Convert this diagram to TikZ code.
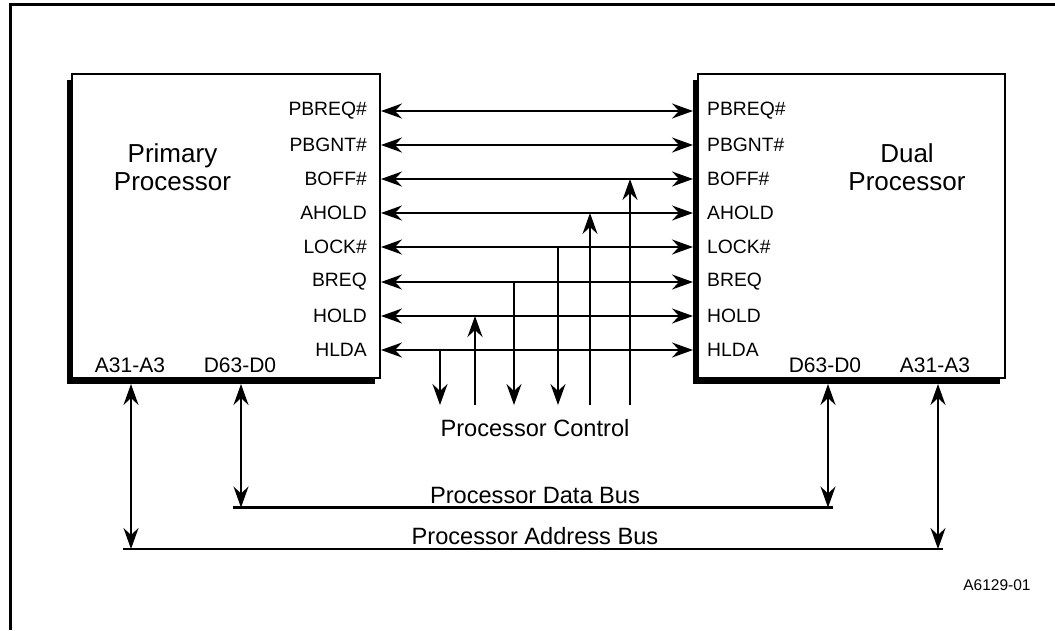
\documentclass[tikz,border=0pt]{standalone}
\usepackage{fontspec}
\setmainfont{Liberation Sans}
\usetikzlibrary{arrows.meta}
\begin{document}
\begin{tikzpicture}[x=1pt,y=-1pt,
  sig/.style={inner sep=0pt,font=\fontsize{19.3}{22}\selectfont},
  pin/.style={inner sep=0pt,font=\fontsize{21}{24}\selectfont},
  title/.style={inner sep=0pt,align=center,font=\fontsize{26}{28.5}\selectfont},
  caption/.style={inner sep=0pt,font=\fontsize{23.6}{26}\selectfont},
  tag/.style={inner sep=0pt,font=\fontsize{15.5}{18}\selectfont},
  box/.style={draw,fill=white,line width=2pt,minimum width=308pt,minimum height=304pt,inner sep=0pt},
  shadow/.style={fill=black,minimum width=308pt,minimum height=304pt,inner sep=0pt},
  tip/.style={-{Stealth[length=21pt,width=15pt,inset=7pt]}},
  both/.style={{Stealth[length=21pt,width=15pt,inset=7pt]}-{Stealth[length=21pt,width=15pt,inset=7pt]}},
  wire/.style={line width=2.2pt},
  bus/.style={line width=2.2pt}]
\useasboundingbox (0,0) rectangle (1055,630);

% page frame
\draw[line width=2.6pt] (10.3,630) -- (10.3,4.5) -- (1055,4.5);

% processor boxes with drop shadows
\node[shadow] at (220.5,231.5) {};
\node[box] (pp) at (226,226) {};
\node[shadow,minimum width=307pt] at (846,231.5) {};
\node[box,minimum width=307pt] (dp) at (851.5,226) {};

\node[title] (ppname) at (172.5,167) {Primary\\Processor};
\node[title] (dpname) at (907,167) {Dual\\Processor};

% signal rows
\foreach \n/\s/\y in {1/PBREQ\#/111,2/PBGNT\#/145,3/BOFF\#/179,4/AHOLD/213,
                      5/LOCK\#/247,6/BREQ/282,7/HOLD/316,8/HLDA/350}{
  \node[sig,anchor=east] (l\n) at (367,\y) {\s};
  \node[sig,anchor=west] (r\n) at (707,\y) {\s};
  \coordinate (a\n) at (381,\y);
  \coordinate (b\n) at (693,\y);
  \draw[wire,both] (a\n) -- (b\n);
}

% processor control taps
\node[caption] (ctl) at (535,428) {Processor Control};
\coordinate (c1) at (440,405);
\coordinate (c2) at (475,405);
\coordinate (c3) at (514,405);
\coordinate (c4) at (558,405);
\coordinate (c5) at (590,405);
\coordinate (c6) at (630,405);
\draw[wire,tip] (c1 |- a8) -- (c1);
\draw[wire,tip] (c2) -- (c2 |- a7);
\draw[wire,tip] (c3 |- a6) -- (c3);
\draw[wire,tip] (c4 |- a5) -- (c4);
\draw[wire,tip] (c5) -- (c5 |- a4);
\draw[wire,tip] (c6) -- (c6 |- a3);

% address and data pins
\node[pin] (pa) at (130,365) {A31-A3};
\node[pin] (pd) at (240,365) {D63-D0};
\node[pin] (dd) at (825,365) {D63-D0};
\node[pin] (da) at (935,365) {A31-A3};

% buses
\coordinate (db0) at (233,507.5);
\coordinate (db1) at (833,507.5);
\coordinate (ab0) at (123,549);
\coordinate (ab1) at (943,549);
\draw[bus] (db0) -- (db1);
\draw[bus] (ab0) -- (ab1);
\node[caption] (dbl) at (535,495) {Processor Data Bus};
\node[caption] (abl) at (535,536) {Processor Address Bus};

\coordinate (pat) at (131,384);
\coordinate (pdt) at (241,384);
\coordinate (ddt) at (828,384);
\coordinate (dat) at (938,384);
\draw[wire,both] (pat) -- (pat |- ab0);
\draw[wire,both] (pdt) -- (pdt |- db0);
\draw[wire,both] (ddt) -- (ddt |- db0);
\draw[wire,both] (dat) -- (dat |- ab0);

\node[tag] (fig) at (997,585) {A6129-01};
\end{tikzpicture}
\end{document}
